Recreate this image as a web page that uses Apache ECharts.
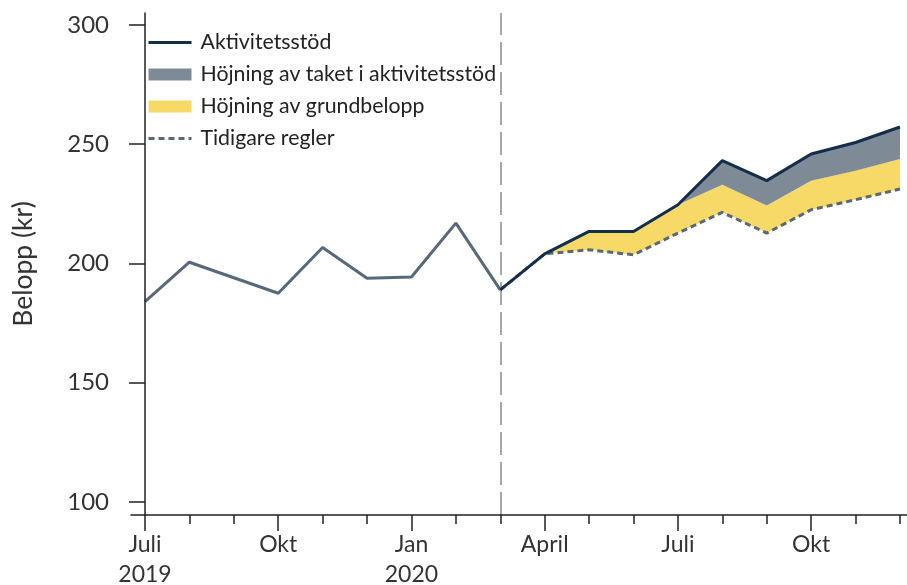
<!DOCTYPE html>
<html>
<head>
<meta charset="utf-8">
<script src="https://cdn.jsdelivr.net/npm/echarts@6/dist/echarts.min.js"></script>
<style>
html,body{margin:0;padding:0;background:#fff;}
#chart{width:907px;height:585px;}
</style>
</head>
<body>
<div id="chart"></div>
<script>
// Month positions: 0 = Juli 2019 ... 17 = Dec 2020
const months = ['Jul 2019','Aug 2019','Sep 2019','Okt 2019','Nov 2019','Dec 2019','Jan 2020','Feb 2020','Mar 2020',
                'Apr 2020','Maj 2020','Jun 2020','Jul 2020','Aug 2020','Sep 2020','Okt 2020','Nov 2020','Dec 2020'];
const tickLabels = {0:'Juli\n2019', 3:'Okt', 6:'Jan\n2020', 9:'April', 12:'Juli', 15:'Okt'};
const majorTicks = [0, 3, 6, 9, 12, 15];
const yTicks = [100, 150, 200, 250, 300];

// Before the reform (Jul 2019 - Mar 2020)
const beforeValues = [184.0, 200.5, 194.0, 187.5, 206.7, 193.8, 194.3, 216.9, 188.9];
// Mar 2020 - Dec 2020
const afterStart = 8;
const aktivitetsstod = [188.9, 204.0, 213.4, 213.4, 224.6, 243.1, 234.7, 245.9, 250.7, 257.2];
const grundbeloppTop = [188.9, 204.0, 213.4, 213.4, 224.6, 233.0, 224.3, 234.7, 238.9, 243.8];
const tidigareRegler = [188.9, 204.0, 205.7, 203.6, 212.7, 221.4, 212.7, 222.5, 226.7, 231.2];
const reformMonth = 8;

const FONT = 'Lato';
const pairs = (arr, start) => arr.map((v, i) => [start + i, v]);
// stacked bands: rows are [value, month] so that the value column is the stacked one
const stackRows = arr => arr.map((v, i) => [v, afterStart + i]);
const bandRows = (top, bottom) => top.map((v, i) => [+(v - bottom[i]).toFixed(2), afterStart + i]);

const chart = echarts.init(document.getElementById('chart'));
const xCommon = {
  type: 'value', min: -0.315, max: 17.158, position: 'bottom', z: 10,
  splitLine: {show: false}
};
const bandSeries = (name, data, color, opacity) => ({
  name, type: 'line', xAxisIndex: 0, stack: 'reform', data,
  encode: {x: 1, y: 0},
  symbol: 'none', color, z: 2,
  lineStyle: {width: 0},
  areaStyle: {color, opacity}
});
chart.setOption({
  animation: false,
  textStyle: {fontFamily: FONT},
  grid: {left: 131, right: 0, top: 13, bottom: 70, outerBoundsMode: 'none', containLabel: false},
  legend: {
    orient: 'vertical', left: 142, top: 27,
    itemWidth: 43, itemHeight: 12, itemGap: 11,
    textStyle: {fontFamily: FONT, fontSize: 21.3, color: '#222', lineHeight: 21, padding: [0,0,0,4]},
    data: [
      {name: 'Aktivitetsstöd', itemStyle: {opacity: 0}, lineStyle: {width: 3}},
      {name: 'Höjning av taket i aktivitetsstöd', icon: 'rect'},
      {name: 'Höjning av grundbelopp', icon: 'rect'},
      {name: 'Tidigare regler', itemStyle: {opacity: 0}, lineStyle: {width: 3}}
    ]
  },
  xAxis: [
    Object.assign({}, xCommon, {
      axisLine: {show: true, lineStyle: {color: '#222', width: 1.5}},
      axisTick: {show: true, length: 9, customValues: months.map((m, i) => i), lineStyle: {color: '#222', width: 1.5}},
      axisLabel: {show: false}
    }),
    Object.assign({}, xCommon, {
      axisLine: {show: false},
      axisTick: {show: true, length: 16, customValues: majorTicks, lineStyle: {color: '#222', width: 1.5}},
      axisLabel: {
        show: true, customValues: majorTicks, margin: 15,
        fontFamily: FONT, fontSize: 23, color: '#333', lineHeight: 30,
        formatter: v => tickLabels[Math.round(v)] || ''
      }
    })
  ],
  yAxis: {
    type: 'value', min: 94.5, max: 305, z: 10,
    name: 'Belopp (kr)', nameLocation: 'middle', nameGap: 94,
    nameTextStyle: {fontFamily: FONT, fontSize: 26.5, color: '#333'},
    splitLine: {show: false},
    axisLine: {show: true, lineStyle: {color: '#222', width: 1.5}},
    axisTick: {show: true, length: 16, customValues: yTicks, lineStyle: {color: '#222', width: 1.5}},
    axisLabel: {customValues: yTicks, margin: 22, fontFamily: FONT, fontSize: 24, color: '#333'}
  },
  series: [
    bandSeries('base', stackRows(tidigareRegler), '#ffffff', 0),
    bandSeries('Höjning av grundbelopp', bandRows(grundbeloppTop, tidigareRegler), '#f6d966', 1),
    bandSeries('Höjning av taket i aktivitetsstöd', bandRows(aktivitetsstod, grundbeloppTop), '#7e8b97', 1),
    {
      name: 'before', type: 'line', xAxisIndex: 0, z: 4,
      data: pairs(beforeValues, 0),
      symbol: 'none', color: '#56687a', lineStyle: {width: 3, color: '#56687a'},
      markLine: {
        silent: true, symbol: 'none', label: {show: false},
        lineStyle: {color: '#8a8a8a', width: 1.5, type: [23, 7]},
        data: [{xAxis: reformMonth}]
      }
    },
    {
      name: 'Tidigare regler', type: 'line', xAxisIndex: 0, z: 5,
      data: pairs(tidigareRegler, afterStart),
      symbol: 'none', color: '#56687a', lineStyle: {width: 3, color: '#56687a', type: [6, 4]}
    },
    {
      name: 'Aktivitetsstöd', type: 'line', xAxisIndex: 0, z: 6,
      data: pairs(aktivitetsstod, afterStart),
      symbol: 'none', color: '#132e4b', lineStyle: {width: 3, color: '#132e4b'}
    }
  ]
});
</script>
</body>
</html>
